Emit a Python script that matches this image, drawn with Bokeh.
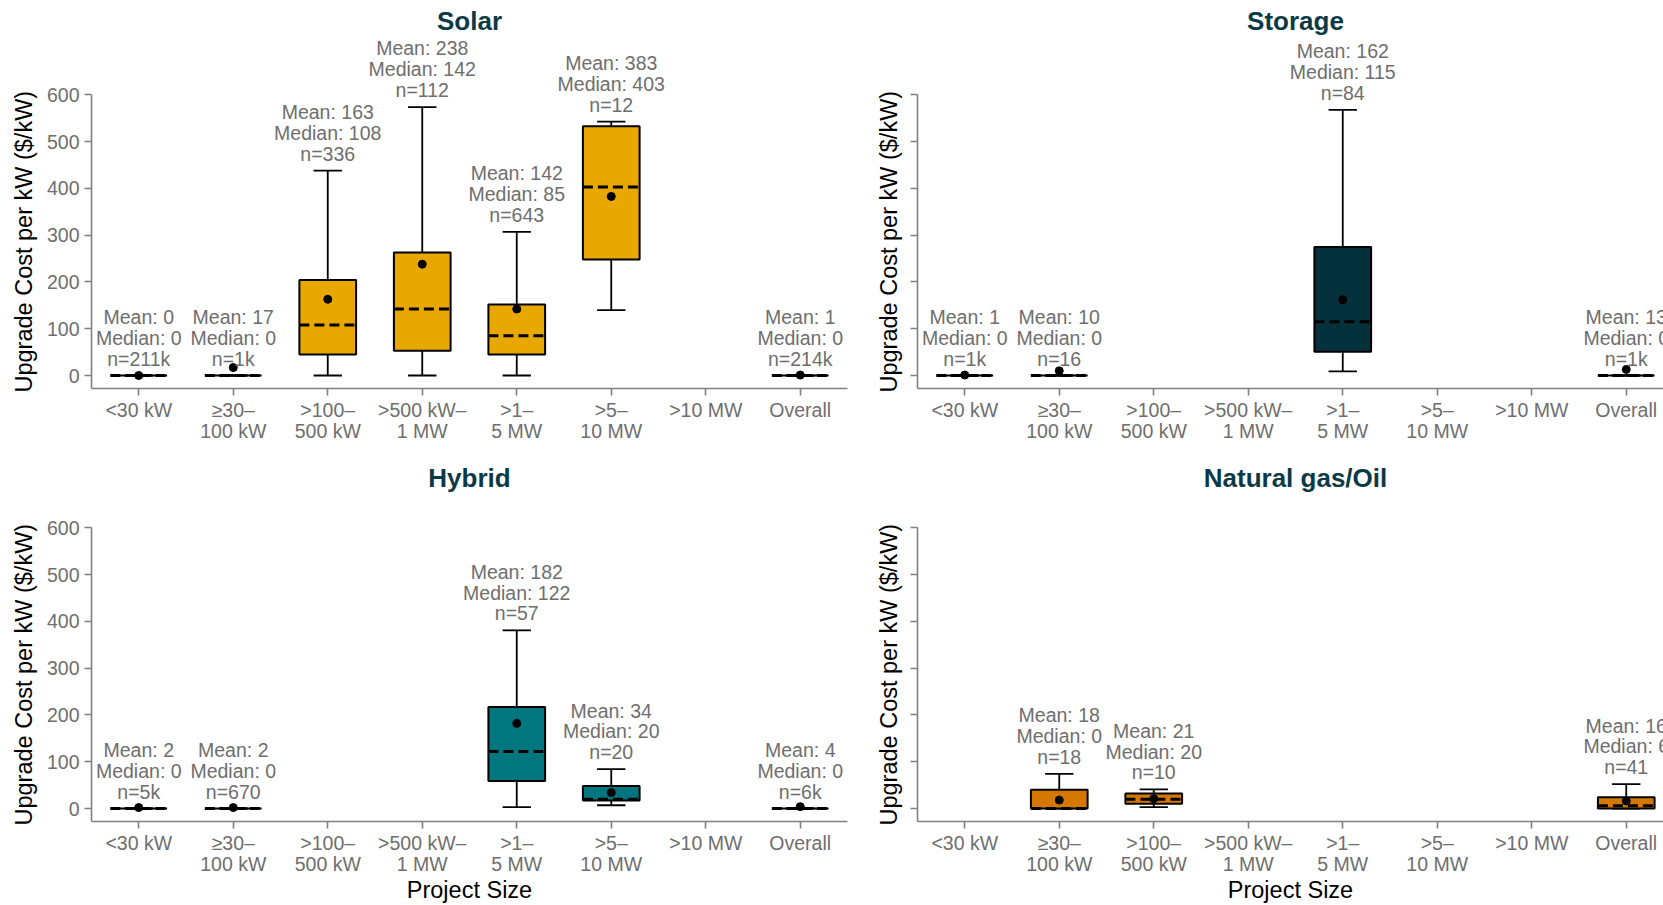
import numpy as np
from bokeh.plotting import figure
from bokeh.models import ColumnDataSource, LabelSet, Label, Range1d, FixedTicker, Title
from bokeh.layouts import column, row
from bokeh.core.properties import value
from bokeh.embed import file_html
from bokeh.resources import INLINE

# ---------------- data ----------------
size_classes = ["<30 kW", "≥30–100 kW", ">100–500 kW", ">500 kW–1 MW",
                ">1–5 MW", ">5–10 MW", ">10 MW", "Overall"]
size_tick_labels = ["<30 kW", "≥30–\n100 kW", ">100–\n500 kW", ">500 kW–\n1 MW",
                    ">1–\n5 MW", ">5–\n10 MW", ">10 MW", "Overall"]
y_ticks = [0, 100, 200, 300, 400, 500, 600]
y_title = "Upgrade Cost per kW ($/kW)"
x_title = "Project Size"

solar_sizes = ["<30 kW", "≥30–100 kW", ">100–500 kW", ">500 kW–1 MW", ">1–5 MW", ">5–10 MW", "Overall"]
solar_lower = [0, 0, 0, 0, 0, 140, 0]
solar_q1 = [0, 0, 45, 53, 45, 248, 0]
solar_median = [0, 0, 108, 142, 85, 403, 0]
solar_q3 = [0, 0, 204, 263, 152, 533, 0]
solar_upper = [0, 0, 438, 574, 307, 543, 0]
solar_mean = [0, 17, 163, 238, 142, 383, 1]
solar_n = ["211k", "1k", "336", "112", "643", "12", "214k"]

storage_sizes = ["<30 kW", "≥30–100 kW", ">1–5 MW", "Overall"]
storage_lower = [0, 0, 9, 0]
storage_q1 = [0, 0, 51, 0]
storage_median = [0, 0, 115, 0]
storage_q3 = [0, 0, 275, 0]
storage_upper = [0, 0, 568, 0]
storage_mean = [1, 10, 162, 13]
storage_n = ["1k", "16", "84", "1k"]

hybrid_sizes = ["<30 kW", "≥30–100 kW", ">1–5 MW", ">5–10 MW", "Overall"]
hybrid_lower = [0, 0, 3, 7, 0]
hybrid_q1 = [0, 0, 59, 17, 0]
hybrid_median = [0, 0, 122, 20, 0]
hybrid_q3 = [0, 0, 217, 48, 0]
hybrid_upper = [0, 0, 381, 84, 0]
hybrid_mean = [2, 2, 182, 34, 4]
hybrid_n = ["5k", "670", "57", "20", "6k"]

gas_sizes = ["≥30–100 kW", ">100–500 kW", "Overall"]
gas_lower = [0, 3, 0]
gas_q1 = [0, 10, 0]
gas_median = [0, 20, 6]
gas_q3 = [40, 32, 24]
gas_upper = [74, 41, 52]
gas_mean = [18, 21, 16]
gas_n = ["18", "10", "41"]

# ---------------- style ----------------
FONT = "Liberation Sans"
GRAY = "#6e6e6e"
AXIS = "#808080"
TITLE_COLOR = "#0b3a46"
Y_START, Y_AXIS_TOP = -27.8, 601
PPU = 0.4676           # pixels per y unit
BOX_W = 0.6
CAP_W = 0.3
LINE_GAP = 20.8        # pixels between annotation lines


def make_panel(title, fill, sizes, lower, q1, median, q3, upper, mean, n,
               left_labels, x_label, width, height, mb_left, mb_right,
               mb_bottom, x_end, title_px):
    xs = np.array([size_classes.index(s) for s in sizes]) + 0.5
    src = ColumnDataSource(dict(
        x=xs, box_l=xs - BOX_W / 2, box_r=xs + BOX_W / 2,
        cap_l=xs - CAP_W / 2, cap_r=xs + CAP_W / 2,
        lower=lower, q1=q1, median=median, q3=q3, upper=upper, mean=mean,
        mean_txt=[f"Mean: {m}" for m in mean],
        median_txt=[f"Median: {m}" for m in median],
        n_txt=[f"n={k}" for k in n]))

    frame_h = height - mb_bottom
    y_end = Y_START + frame_h / PPU
    p = figure(width=width, height=height, output_backend="svg", toolbar_location=None,
               x_range=Range1d(0, x_end), y_range=Range1d(Y_START, y_end),
               min_border_left=mb_left, min_border_right=mb_right,
               min_border_top=0, min_border_bottom=mb_bottom)
    p.outline_line_color = None
    p.xgrid.visible = False
    p.ygrid.visible = False
    p.background_fill_color = "white"
    p.border_fill_color = "white"

    # whisker caps
    p.segment(x0="cap_l", y0="upper", x1="cap_r", y1="upper", source=src,
              line_color="black", line_width=1.8)
    p.segment(x0="cap_l", y0="lower", x1="cap_r", y1="lower", source=src,
              line_color="black", line_width=1.8)
    # whiskers
    p.segment(x0="x", y0="q3", x1="x", y1="upper", source=src,
              line_color="black", line_width=1.8)
    p.segment(x0="x", y0="lower", x1="x", y1="q1", source=src,
              line_color="black", line_width=1.8)
    # boxes
    p.vbar(x="x", width=BOX_W, bottom="q1", top="q3", source=src,
           fill_color=fill, line_color="black", line_width=2)
    # dashed medians
    p.segment(x0="box_l", y0="median", x1="box_r", y1="median", source=src,
              line_color="black", line_width=3, line_dash="10 5")
    # means
    p.scatter(x="x", y="mean", source=src, size=8, marker="circle",
              fill_color="black", line_color="black")

    # annotations: three centred lines above the upper whisker
    for col, k in (("n_txt", 0), ("median_txt", 1), ("mean_txt", 2)):
        p.add_layout(LabelSet(x="x", y="upper", text=col, source=src,
                              y_offset=10 + k * LINE_GAP, text_align="center",
                              text_baseline="alphabetic",
                              text_font=value(FONT), text_font_size=value("19.5px"),
                              text_color=GRAY))

    p.add_layout(Label(x=4.0, y=y_end - title_px / PPU, text=title,
                       text_align="center", text_baseline="middle",
                       text_font=FONT, text_font_style="bold",
                       text_font_size="26px", text_color=TITLE_COLOR))

    # x axis
    xa = p.xaxis[0]
    xa.ticker = FixedTicker(ticks=[i + 0.5 for i in range(len(size_classes))])
    xa.major_label_overrides = {i + 0.5: lab for i, lab in enumerate(size_tick_labels)}
    xa.minor_tick_line_color = None
    xa.major_tick_in = 0
    xa.major_tick_out = 7
    xa.axis_line_color = AXIS
    xa.axis_line_width = 1.6
    xa.major_tick_line_color = AXIS
    xa.major_tick_line_width = 1.6
    xa.major_label_text_font = FONT
    xa.major_label_text_font_size = "19.5px"
    xa.major_label_text_color = GRAY
    xa.major_label_text_line_height = 0.96
    xa.major_label_standoff = 3
    if x_label:
        xa.axis_label = x_label
        xa.axis_label_text_font = FONT
        xa.axis_label_text_font_size = "23.5px"
        xa.axis_label_text_font_style = "normal"
        xa.axis_label_text_color = "black"
        xa.axis_label_standoff = -1

    # y axis (line limited to the data span)
    ya = p.yaxis[0]
    ya.bounds = (Y_START, Y_AXIS_TOP)
    ya.ticker = FixedTicker(ticks=y_ticks)
    ya.minor_tick_line_color = None
    ya.major_tick_in = 0
    ya.major_tick_out = 7
    ya.axis_line_color = AXIS
    ya.axis_line_width = 1.6
    ya.major_tick_line_color = AXIS
    ya.major_tick_line_width = 1.6
    ya.major_label_text_font = FONT
    ya.major_label_text_font_size = "19.5px"
    ya.major_label_text_color = GRAY
    if left_labels:
        ya.major_label_standoff = 5
        title_standoff = 14
    else:
        ya.major_label_overrides = {t: "" for t in y_ticks}
        ya.major_label_standoff = 0
        title_standoff = 17

    # y-axis title, aligned to the start of the bounded axis
    p.add_layout(Title(text=y_title, align="left", offset=-4, standoff=title_standoff,
                       vertical_align="bottom",
                       text_font=FONT, text_font_size="23.5px", text_font_style="normal",
                       text_color="black"), "left")
    return p


LEFT_W, RIGHT_W = 855, 808
TOP_H, BOT_H = 448, 457
RIGHT_X_END = 746 / 94.5

p_solar = make_panel("Solar", "#e8a800", solar_sizes, solar_lower, solar_q1, solar_median,
                     solar_q3, solar_upper, solar_mean, solar_n, True, None,
                     LEFT_W, TOP_H, 91, 8, 60, 8, 20)
p_storage = make_panel("Storage", "#04313b", storage_sizes, storage_lower, storage_q1,
                       storage_median, storage_q3, storage_upper, storage_mean, storage_n,
                       False, None, RIGHT_W, TOP_H, 62, 0, 60, RIGHT_X_END, 20)
p_hybrid = make_panel("Hybrid", "#00767f", hybrid_sizes, hybrid_lower, hybrid_q1,
                      hybrid_median, hybrid_q3, hybrid_upper, hybrid_mean, hybrid_n,
                      True, x_title, LEFT_W, BOT_H, 91, 8, 84, 8, 29)
p_gas = make_panel("Natural gas/Oil", "#d47800", gas_sizes, gas_lower, gas_q1, gas_median,
                   gas_q3, gas_upper, gas_mean, gas_n, False, x_title,
                   RIGHT_W, BOT_H, 62, 0, 84, RIGHT_X_END, 29)

layout = column(row(p_solar, p_storage), row(p_hybrid, p_gas))
open("out.html", "w").write(file_html(layout, INLINE))
